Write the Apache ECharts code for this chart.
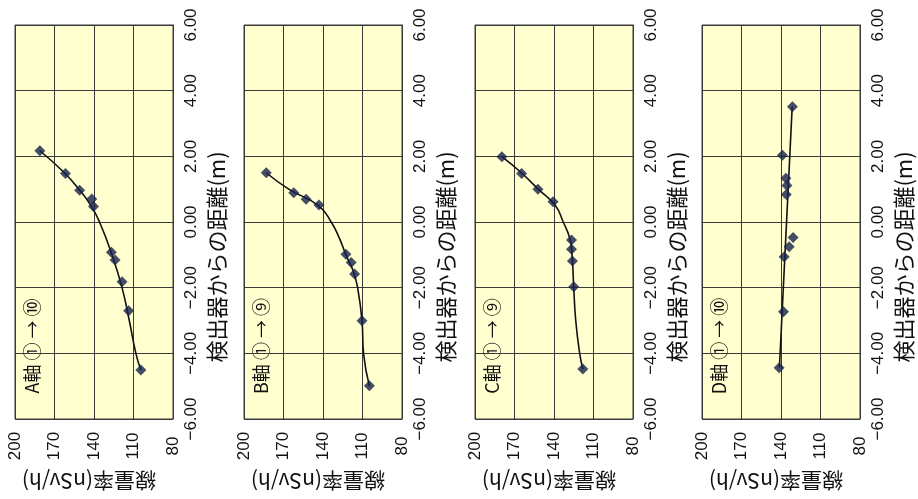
<!DOCTYPE html>
<html><head><meta charset="utf-8">
<script src="https://cdn.jsdelivr.net/npm/echarts@6/dist/echarts.min.js"></script>
<style>html,body{margin:0;padding:0;background:#fff}#c{width:918px;height:499px}</style>
</head><body><div id="c"></div>
<script>
// Panel titles
const panelTitles = ['A軸 ① → ⑩', 'B軸 ① → ⑨', 'C軸 ① → ⑨', 'D軸 ① → ⑩'];
// measured points: distance from detector (m) and dose rate (nSv/h)
const distA = [2.17, 1.48, 0.97, 0.70, 0.47, -0.92, -1.16, -1.82, -2.70, -4.51];
const doseA = [181.1, 161.7, 150.9, 141.7, 140.4, 126.8, 124.0, 118.7, 113.7, 104.4];
const distB = [1.50, 0.89, 0.69, 0.52, -0.98, -1.23, -1.58, -3.01, -4.99];
const doseB = [183.1, 162.2, 152.8, 143.1, 122.6, 118.6, 116.0, 110.4, 104.8];
const distC = [1.99, 1.48, 1.00, 0.62, -0.55, -0.83, -1.19, -1.97, -4.48];
const doseC = [179.6, 164.6, 152.2, 140.7, 126.7, 126.7, 126.0, 125.0, 118.1];
const distD = [3.51, 2.03, 1.33, 1.11, 0.84, -0.47, -0.75, -1.06, -2.73, -4.44];
const doseD = [131.3, 138.9, 136.3, 135.5, 136.0, 130.8, 133.8, 137.6, 138.1, 141.4];
// trend curves
const trendADist = [2.17, 1.5, 1.0, 0.5, 0, -1, -2, -3, -4, -4.51];
const trendADose = [181.1, 162.5, 151.5, 142.3, 135.8, 126.3, 118.7, 113.2, 108.2, 104.4];
const trendBDist = [1.5, 1.0, 0.5, 0, -0.5, -1, -1.5, -2, -3, -4, -4.99];
const trendBDose = [183.1, 166.0, 143.5, 133.8, 127.5, 122.6, 117.0, 113.7, 110.4, 109.2, 104.8];
const trendCDist = [1.99, 1.5, 1.0, 0.5, 0, -0.5, -1, -2, -3, -4, -4.48];
const trendCDose = [179.6, 164.8, 152.0, 139.0, 133.0, 128.0, 126.3, 125.0, 123.5, 120.5, 118.1];
const trendDDist = [-4.44, 3.51];
const trendDDose = [141.2, 131.5];
// tick labels
const distTickValues = [-6, -4, -2, 0, 2, 4, 6];
const distTickLabels = ['−6.00', '−4.00', '−2.00', '0.00', '2.00', '4.00', '6.00'];
const doseTickValues = [80, 110, 140, 170, 200];
const doseTickLabels = ['80', '110', '140', '170', '200'];
const doseName = '線量率(nSv/h)';
const distName = '検出器からの距離(m)';

const pairs = (d, x) => d.map((v, i) => [x[i], v]);
const panels = [
  {dist: distA, dose: doseA, tDist: trendADist, tDose: trendADose, smooth: true},
  {dist: distB, dose: doseB, tDist: trendBDist, tDose: trendBDose, smooth: true},
  {dist: distC, dose: doseC, tDist: trendCDist, tDose: trendCDose, smooth: true},
  {dist: distD, dose: doseD, tDist: trendDDist, tDose: trendDDose, smooth: false}
];

const lefts = [15, 244, 475, 702];
const W = 158, TOP = 25, H = 394;
const gridLine = '#3a3a3a';
const markColor = '#16214a';

const grids = [], xAxes = [], yAxes = [], series = [], graphics = [];
panels.forEach((p, i) => {
  grids.push({left: lefts[i], top: TOP, width: W, height: H, show: true,
    backgroundColor: '#FFFFCF', borderColor: gridLine, borderWidth: 1});
  xAxes.push({type: 'value', gridIndex: i, min: 80, max: 200, interval: 30, inverse: true,
    position: 'bottom',
    axisLine: {show: true, lineStyle: {color: gridLine}}, axisTick: {show: false},
    splitLine: {show: true, lineStyle: {color: gridLine, width: 1}},
    axisLabel: {rotate: 90, align: 'center', verticalAlign: 'middle', margin: 27,
      fontFamily: 'Liberation Sans', fontSize: 17, color: '#111',
      formatter: v => doseTickLabels[doseTickValues.indexOf(v)]},
    name: doseName, nameLocation: 'middle', nameGap: 62, nameRotate: 180,
    nameTextStyle: {fontFamily: 'Noto Sans CJK JP', fontSize: 21, color: '#111',
      align: 'center', verticalAlign: 'middle', padding: [0, 0, 0, 10]}
  });
  yAxes.push({type: 'value', gridIndex: i, min: -6, max: 6, interval: 2, position: 'right',
    axisLine: {show: true, lineStyle: {color: gridLine}}, axisTick: {show: false},
    splitLine: {show: true, lineStyle: {color: gridLine, width: 1}},
    axisLabel: {rotate: 90, align: 'center', verticalAlign: 'top', margin: 10,
      fontFamily: 'Liberation Sans', fontSize: 17, color: '#111',
      formatter: v => distTickLabels[distTickValues.indexOf(v)]},
    name: distName, nameLocation: 'middle', nameGap: 44, nameRotate: 90,
    nameTextStyle: {fontFamily: 'Noto Sans CJK JP', fontSize: 22, color: '#111',
      align: 'center', verticalAlign: 'middle', padding: [0, 70, 0, 0]}
  });
  series.push({type: 'line', xAxisIndex: i, yAxisIndex: i, data: pairs(p.tDist, p.tDose),
    smooth: p.smooth ? 0.5 : false, symbol: 'none', lineStyle: {color: '#111', width: 1.6}, z: 2});
  series.push({type: 'scatter', xAxisIndex: i, yAxisIndex: i, data: pairs(p.dist, p.dose),
    symbol: 'diamond', symbolSize: 11, itemStyle: {color: markColor}, z: 3});
  graphics.push({type: 'text', x: lefts[i] + 17, y: 346, rotation: Math.PI / 2,
    style: {text: panelTitles[i], fontFamily: 'Noto Sans CJK JP', fontSize: 18, fill: '#111',
      align: 'center', verticalAlign: 'middle'}});
});

const chart = echarts.init(document.getElementById('c'), null, {renderer: 'canvas'});
chart.setOption({animation: false, grid: grids, xAxis: xAxes, yAxis: yAxes, series, graphic: graphics});
</script></body></html>
